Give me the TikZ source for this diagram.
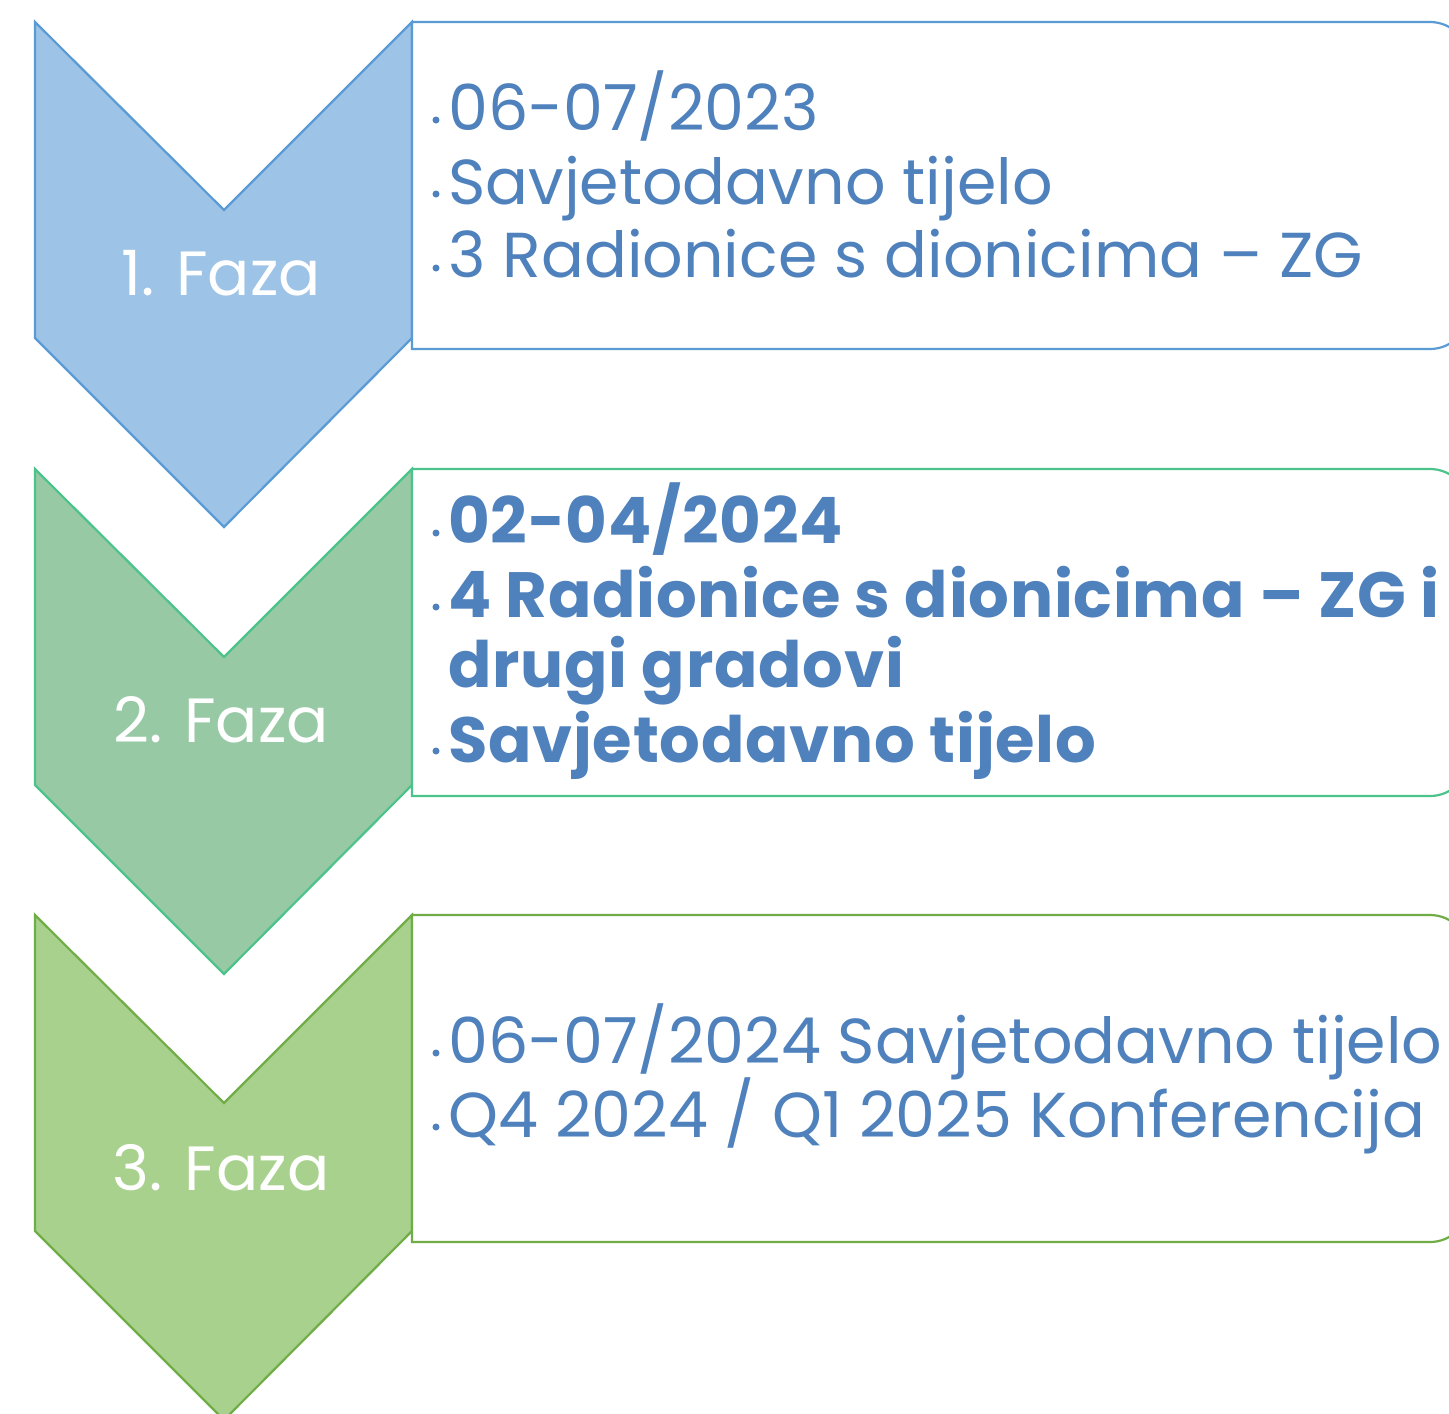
\documentclass[tikz,border=0pt]{standalone}
\usepackage{fontspec}
\setmainfont{Poppins}
\newfontfamily\boldwide[LetterSpace=1.2]{Poppins}
\definecolor{txtblue}{HTML}{4F81BD}
\definecolor{fillA}{HTML}{9DC3E6}
\definecolor{lineA}{HTML}{5B9BD5}
\definecolor{fillB}{HTML}{98C9A5}
\definecolor{lineB}{HTML}{4CC38A}
\definecolor{fillC}{HTML}{A9D18E}
\definecolor{lineC}{HTML}{70AD47}
\tikzset{
  chevshape/.style={line width=2.2pt, line join=miter},
  boxshape/.style={line width=2.2pt, fill=white},
  phaselabel/.style={text=white, font=\fontsize{62.5}{62.5}\selectfont, inner sep=0pt, anchor=base},
  itemtxt/.style={text=txtblue, font=\fontsize{63.5}{63.5}\selectfont, inner sep=0pt, anchor=base west},
  itembold/.style={text=txtblue, font=\boldwide\fontsize{64}{64}\selectfont\bfseries, inner sep=0pt, anchor=base west},
  bulletdot/.style={fill=txtblue}
}
\begin{document}
\begin{tikzpicture}[x=1pt,y=-1pt]
\useasboundingbox (0,0) rectangle (1449,1414);
\clip (0,0) rectangle (1449,1414);
\fill[white] (0,0) rectangle (1449,1414);

% chevrons
\foreach \dy/\fc/\lc in {0/fillA/lineA, 447/fillB/lineB, 893/fillC/lineC}{
  \draw[chevshape, fill=\fc, draw=\lc] (35,22+\dy) -- (224,210+\dy) -- (412,22+\dy) -- (412,338+\dy) -- (224,527+\dy) -- (35,338+\dy) -- cycle;
}

% boxes
\foreach \dy/\lc in {0/lineA, 447/lineB, 893/lineC}{
  \draw[boxshape, draw=\lc] (412,22+\dy) -- (1430,22+\dy) arc(-90:0:39) -- (1469,310+\dy) arc(0:90:39) -- (412,349+\dy) -- cycle;
}

% phase labels
\node[phaselabel] (p1) at (221,295) {1. Faza};
\node[phaselabel] (p2) at (221,742) {2. Faza};
\node[phaselabel] (p3) at (221,1190) {3. Faza};

% box 1
\fill[bulletdot] (436,120) circle (3.5);
\fill[bulletdot] (436,194) circle (3.5);
\fill[bulletdot] (436,268) circle (3.5);
\node[itemtxt] (a1) at (448,130) {06-07/2023};
\node[itemtxt] (a2) at (448,204) {Savjetodavno tijelo};
\node[itemtxt] (a3) at (448,277) {3 Radionice s dionicima – ZG};

% box 2
\fill[bulletdot] (436,533) circle (3.5);
\fill[bulletdot] (436,607) circle (3.5);
\fill[bulletdot] (436,751) circle (3.5);
\node[itembold] (b1) at (448,543) {02-04/2024};
\node[itembold] (b2) at (448,617) {4 Radionice s dionicima – ZG i};
\node[itembold] (b3) at (448,687) {drugi gradovi};
\node[itembold] (b4) at (448,762) {Savjetodavno tijelo};

% box 3
\fill[bulletdot] (436,1053) circle (3.5);
\fill[bulletdot] (436,1127) circle (3.5);
\node[itemtxt] (c1) at (448,1063) {06-07/2024 Savjetodavno tijelo};
\node[itemtxt] (c2) at (448,1137) {Q4 2024 / Q1 2025 Konferencija};
\end{tikzpicture}
\end{document}
